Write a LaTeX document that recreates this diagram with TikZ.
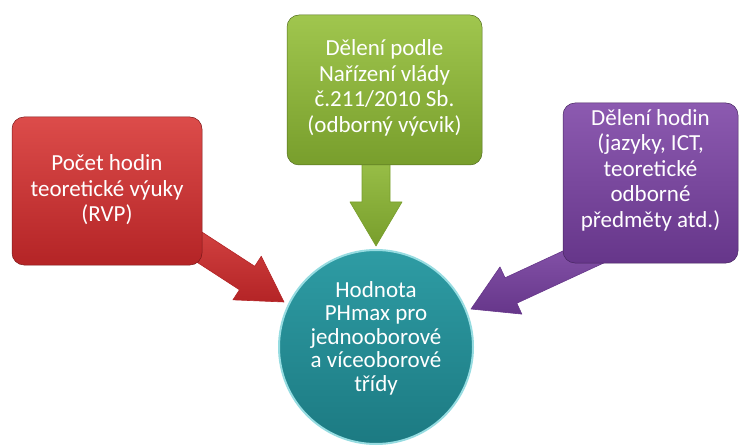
\documentclass[tikz,border=0pt]{standalone}
\usepackage{fontspec}
\setmainfont{Carlito}
\usetikzlibrary{calc}
\definecolor{redT}{RGB}{220,76,74}
\definecolor{redB}{RGB}{180,36,38}
\definecolor{grnT}{RGB}{160,198,78}
\definecolor{grnB}{RGB}{120,158,44}
\definecolor{purT}{RGB}{140,90,176}
\definecolor{purB}{RGB}{102,54,138}
\definecolor{tealT}{RGB}{46,156,164}
\definecolor{tealB}{RGB}{28,122,130}
\definecolor{tealRim}{RGB}{150,220,225}
\newcommand\fatarr[4]{% start, tip, top colour, bottom colour
  \coordinate (hb) at ($(#2)!44pt!(#1)$);
  \path[top color=#3, bottom color=#4, draw=#4, line width=0.6pt, line join=round]
    ($(#1)!14pt!90:(#2)$) -- ($(hb)!14pt!90:(#2)$) -- ($(hb)!26pt!90:(#2)$)
    -- (#2) -- ($(hb)!26pt!-90:(#2)$) -- ($(hb)!14pt!-90:(#2)$)
    -- ($(#1)!14pt!-90:(#2)$) -- cycle;
}
\begin{document}
\begin{tikzpicture}[x=1pt,y=-1pt,
  txt/.style={text=white, align=center, font=\fontsize{23}{25.5}\selectfont},
  box/.style={txt, rounded corners=12pt, inner sep=0pt, draw=#1!70!black, line width=0.5pt},
  ball/.style={circle, inner sep=0pt, minimum size=194pt, draw=tealRim, line width=2pt}]
\useasboundingbox (0,0) rectangle (746,446);
% arrow anchor coordinates
\coordinate (rs) at (150,215);
\coordinate (rt) at (284,302);
\coordinate (gs) at (376,140);
\coordinate (gt) at (376,246);
\coordinate (ps) at (620,240);
\coordinate (pt) at (471,309);
% arrows
\fatarr{rs}{rt}{redT}{redB}
\fatarr{gs}{gt}{grnT}{grnB}
\fatarr{ps}{pt}{purT}{purB}
% boxes
\node[box=redB, top color=redT, bottom color=redB, minimum width=190pt, minimum height=148pt] (red) at (107,191) {};
\node[txt] (redtext) at ([yshift=1pt]red.center) {Počet hodin\\teoretické výuky\\(RVP)};
\node[box=grnB, top color=grnT, bottom color=grnB, minimum width=195pt, minimum height=150pt] (green) at (384.5,90) {};
\node[txt] (greentext) at ([yshift=2pt]green.center) {Dělení podle\\Nařízení vlády\\č.211/2010 Sb.\\(odborný výcvik)};
\node[box=purB, top color=purT, bottom color=purB, minimum width=175pt, minimum height=160pt] (purple) at (650.5,183) {};
\node[txt] (purpletext) at ([yshift=13pt]purple.center) {Dělení hodin\\(jazyky, ICT,\\teoretické\\odborné\\předměty atd.)};
% goal circle
\node[ball, top color=tealT, bottom color=tealB] (goal) at (376,347) {};
\node[txt, font=\fontsize{23}{23.5}\selectfont] (goaltext) at ([yshift=9pt]goal.center) {Hodnota\\PHmax pro\\jednooborové\\a víceoborové\\třídy};
\end{tikzpicture}
\end{document}
